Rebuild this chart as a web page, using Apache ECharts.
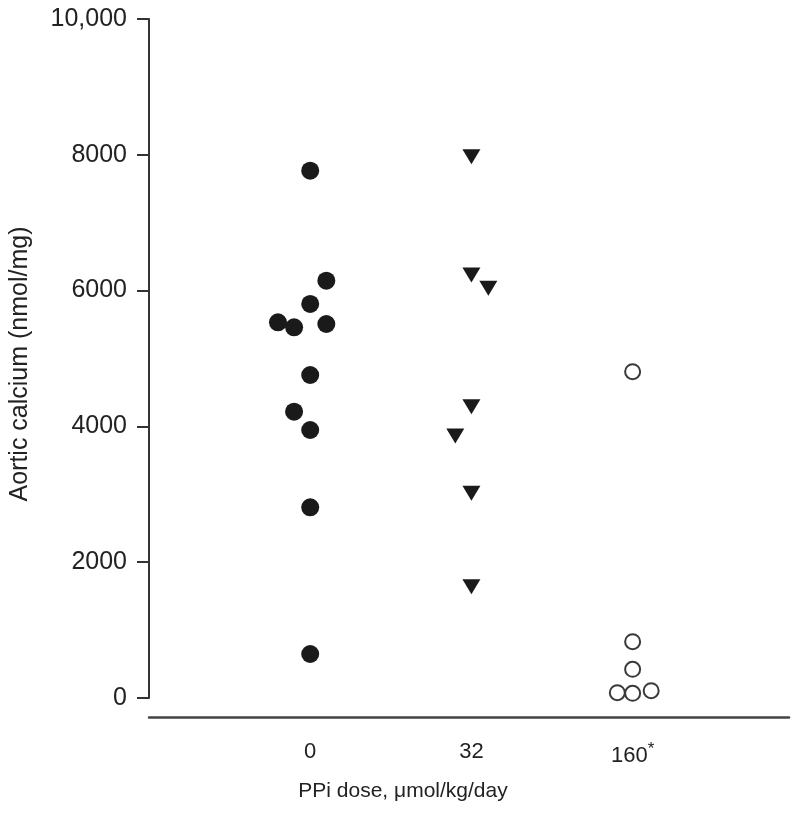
<!DOCTYPE html>
<html>
<head>
<meta charset="utf-8">
<script src="https://cdn.jsdelivr.net/npm/echarts@6/dist/echarts.min.js"></script>
<style>
html,body{margin:0;padding:0;background:#fff;}
#chart{width:800px;height:821px;}
</style>
</head>
<body>
<div id="chart"></div>
<script>
// Category labels (dose, umol/kg/day) and their slot on the x axis
const categories = ['0', '32', '160*'];
const yTicks = [0, 2000, 4000, 6000, 8000, 10000];

// Aortic calcium (nmol/mg) per animal, with horizontal jitter
const dose0Values = [7766, 6146, 5803, 5533, 5459, 5508, 4757, 4217, 3947, 2808, 648];
const dose0Jitter = [0, 0.1, 0, -0.2, -0.1, 0.1, 0, -0.1, 0, 0, 0];

const dose32Values = [7970, 6230, 6034, 4290, 3859, 3015, 1640];
const dose32Jitter = [0, 0, 0.105, 0, -0.1, 0, 0];

const dose160Values = [4806, 829, 422, 78, 69, 108];
const dose160Jitter = [0, 0, 0, -0.095, 0, 0.115];

function pts(catIndex, values, jitter) {
  return values.map((v, i) => [catIndex + 1 + jitter[i], v]);
}

const chart = echarts.init(document.getElementById('chart'));
const font = 'Liberation Sans, Arial, Helvetica, sans-serif';
const axisColor = '#333';

chart.setOption({
  backgroundColor: '#fff',
  animation: false,
  grid: { left: 149, right: 11, top: 19, bottom: 123, containLabel: false },
  xAxis: {
    type: 'value',
    min: 0,
    max: 3.97,
    interval: 1,
    offset: 19,
    axisLine: { show: true, onZero: false, lineStyle: { color: '#444', width: 2.5 } },
    axisTick: { show: false },
    splitLine: { show: false },
    axisLabel: {
      margin: 24,
      showMinLabel: false,
      showMaxLabel: false,
      color: '#222',
      fontFamily: font,
      fontSize: 22,
      formatter: function (v) {
        const idx = Math.round(v) - 1;
        if (Math.abs(v - Math.round(v)) > 1e-6 || idx < 0 || idx >= categories.length) return '';
        const c = categories[idx];
        if (c.endsWith('*')) return c.slice(0, -1) + '{s|*}';
        return c;
      },
      rich: {
        s: { fontSize: 17, fontFamily: font, color: '#222', padding: [0, 0, 12, 0] }
      }
    },
    name: 'PPi dose, \u03bcmol/kg/day',
    nameLocation: 'middle',
    nameGap: 64,
    nameTextStyle: { color: '#222', fontFamily: font, fontSize: 21, padding: [0, 132, 0, 0] }
  },
  yAxis: {
    type: 'value',
    min: 0,
    max: 10000,
    interval: 2000,
    axisLine: { show: true, lineStyle: { color: axisColor, width: 2 } },
    axisTick: { show: true, inside: false, length: 12, lineStyle: { color: axisColor, width: 2 } },
    splitLine: { show: false },
    axisLabel: {
      margin: 22,
      color: '#222',
      fontFamily: font,
      fontSize: 25,
      formatter: function (v) { return v === 10000 ? '10,000' : String(v); }
    },
    name: 'Aortic calcium (nmol/mg)',
    nameLocation: 'middle',
    nameGap: 116,
    nameTextStyle: { color: '#222', fontFamily: font, fontSize: 25, padding: [0, 11, 0, 0] }
  },
  series: [
    {
      type: 'scatter',
      data: pts(0, dose0Values, dose0Jitter),
      symbol: 'circle',
      symbolSize: 18,
      itemStyle: { color: '#1a1a1a', opacity: 1 }
    },
    {
      type: 'scatter',
      data: pts(1, dose32Values, dose32Jitter),
      symbol: 'triangle',
      symbolRotate: 180,
      symbolSize: [18, 15],
      itemStyle: { color: '#1a1a1a', opacity: 1 }
    },
    {
      type: 'scatter',
      data: pts(2, dose160Values, dose160Jitter),
      symbol: 'circle',
      symbolSize: 15,
      itemStyle: { color: '#fff', borderColor: '#3a3a3a', borderWidth: 2, opacity: 1 }
    }
  ]
});
</script>
</body>
</html>
